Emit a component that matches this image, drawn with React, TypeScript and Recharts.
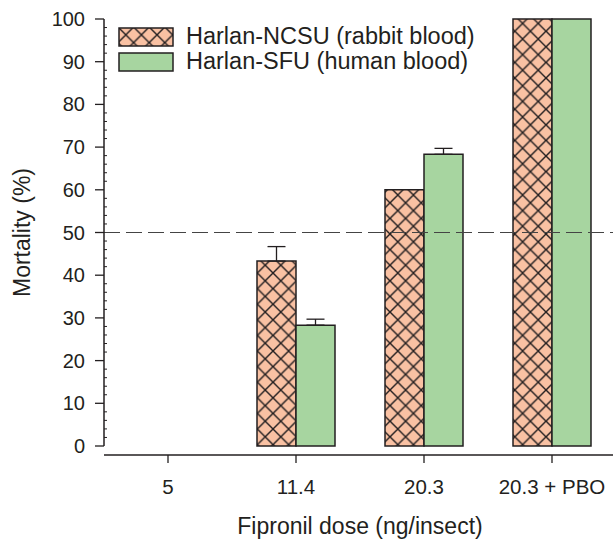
import React from 'react';
import { BarChart, Bar, XAxis, YAxis, ReferenceLine, ErrorBar, Label } from 'recharts';

const doses = ['5', '11.4', '20.3', '20.3 + PBO'];
const ncsuMortality = [null, 43.3, 60, 100];
const ncsuError = [null, 3.4, null, null];
const sfuMortality = [null, 28.3, 68.3, 100];
const sfuError = [null, 1.4, 1.4, null];
const yMajorTicks = [0, 10, 20, 30, 40, 50, 60, 70, 80, 90, 100];
const yMinorStep = 2;

const seriesNames = ['Harlan-NCSU (rabbit blood)', 'Harlan-SFU (human blood)'];

const FONT = '"Liberation Sans", Arial, sans-serif';
const INK = '#231f20';
const SALMON = '#f9c1a3';
const GREEN = '#a7d5a0';

const data = doses.map((dose, i) => ({
  dose,
  ncsu: ncsuMortality[i],
  ncsuErr: ncsuError[i],
  sfu: sfuMortality[i],
  sfuErr: sfuError[i],
}));

const yTicks: number[] = [];
for (let v = 0; v <= 100; v += yMinorStep) yTicks.push(v);

const Hatch = ({ id }: { id: string }) => (
  <pattern id={id} patternUnits="userSpaceOnUse" width={15.6} height={15.6}>
    <rect width={15.6} height={15.6} fill={SALMON} />
    <path d="M0,0 L15.6,15.6 M15.6,0 L0,15.6" stroke={INK} strokeWidth={1.4} />
  </pattern>
);

const YTick = (props: any) => {
  const { x, y, payload } = props;
  const v = payload.value;
  if (!yMajorTicks.includes(v)) {
    return <line x1={x} x2={x + 3} y1={y} y2={y} stroke={INK} strokeWidth={1} />;
  }
  return (
    <g>
      <line x1={x - 9} x2={x} y1={y} y2={y} stroke={INK} strokeWidth={1.3} />
      <text x={x - 19} y={y} dy="0.35em" textAnchor="end" fontSize={20} fontFamily={FONT} fill={INK}>
        {v}
      </text>
    </g>
  );
};

const XTick = (props: any) => {
  const { x, y, payload } = props;
  return (
    <g>
      <line x1={x} x2={x} y1={y + 9} y2={y + 17} stroke={INK} strokeWidth={1.3} />
      <text x={x} y={y + 41} dy="0.35em" textAnchor="middle" fontSize={20.5} fontFamily={FONT} fill={INK}>
        {payload.value}
      </text>
    </g>
  );
};

const LegendBox = () => (
  <div style={{ position: 'absolute', top: 24, left: 118, fontFamily: FONT, fontSize: 23.5, color: INK }}>
    {seriesNames.map((name, i) => (
      <div key={name} style={{ display: 'flex', alignItems: 'center', height: 25, whiteSpace: 'nowrap' }}>
        <svg width={56} height={20} style={{ marginRight: 12 }}>
          <defs>
            <Hatch id="legendHatch" />
          </defs>
          <rect x={1} y={1} width={54} height={18} fill={i === 0 ? 'url(#legendHatch)' : GREEN} stroke={INK} strokeWidth={1.5} />
        </svg>
        <span>{name}</span>
      </div>
    ))}
  </div>
);

export default function App() {
  return (
    <div style={{ position: 'absolute', top: 0, left: 0, width: 613, height: 540, overflow: 'hidden', background: '#fff' }}>
      <BarChart
        width={620}
        height={540}
        data={data}
        margin={{ top: 19, right: 4, left: 44, bottom: 0 }}
        barCategoryGap={25}
        barGap={0}
      >
        <defs>
          <Hatch id="ncsuHatch" />
        </defs>
        <YAxis
          domain={[0, 100]}
          ticks={yTicks}
          interval={0}
          width={60}
          tickSize={0}
          tickMargin={0}
          tick={<YTick />}
          axisLine={{ stroke: INK, strokeWidth: 1.5 }}
          tickLine={false}
        >
          <Label
            content={(p: any) => {
              const vb = p.viewBox;
              const cy = vb.y + vb.height / 2;
              return (
                <text x={30} y={cy} transform={`rotate(-90, 30, ${cy})`} textAnchor="middle" fontSize={23} fontFamily={FONT} fill={INK}>
                  Mortality (%)
                </text>
              );
            }}
          />
        </YAxis>
        <XAxis
          dataKey="dose"
          height={94}
          tickSize={0}
          tickMargin={0}
          tick={<XTick />}
          interval={0}
          tickLine={false}
          axisLine={{ stroke: INK, strokeWidth: 1.5, transform: 'translate(0, 9)' }}
        >
          <Label
            content={(p: any) => {
              const vb = p.viewBox;
              return (
                <text x={vb.x + vb.width / 2} y={534} textAnchor="middle" fontSize={23} fontFamily={FONT} fill={INK}>
                  Fipronil dose (ng/insect)
                </text>
              );
            }}
          />
        </XAxis>
        <ReferenceLine y={50} stroke="#444" strokeWidth={1} strokeDasharray="16 6" />
        <Bar dataKey="ncsu" name={seriesNames[0]} fill="url(#ncsuHatch)" stroke={INK} strokeWidth={1.5} isAnimationActive={false}>
          <ErrorBar dataKey={(d: any) => (d.ncsuErr == null ? null : [0, d.ncsuErr])} width={9} stroke={INK} strokeWidth={1.3} />
        </Bar>
        <Bar dataKey="sfu" name={seriesNames[1]} fill={GREEN} stroke={INK} strokeWidth={1.5} isAnimationActive={false}>
          <ErrorBar dataKey={(d: any) => (d.sfuErr == null ? null : [0, d.sfuErr])} width={9} stroke={INK} strokeWidth={1.3} />
        </Bar>
      </BarChart>
      <LegendBox />
    </div>
  );
}
